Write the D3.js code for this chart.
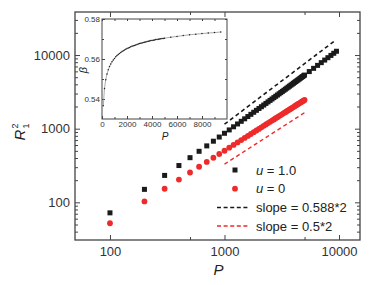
<!DOCTYPE html>
<html lang="en">
<head>
  <meta charset="UTF-8">
  <title>R1^2 vs P</title>
  <script src="https://d3js.org/d3.v7.min.js"></script>
  <style>
    body { margin: 0; background: #fff; font-family: Arial, "Liberation Sans", sans-serif; }
    svg { display: block; }
    .tick text { fill: #333; }
  </style>
</head>
<body>
  <div id="chart"></div>

  <script>
    // chain lengths P and R1^2 for u = 1.0 (black squares)
    const pU1 = [100, 200, 300, 400, 500, 600, 700, 800, 900, 1000,
      1100, 1200, 1300, 1400, 1500, 1600, 1700, 1800, 1900, 2000,
      2100, 2200, 2300, 2400, 2500, 2600, 2700, 2800, 2900, 3000,
      3100, 3200, 3300, 3400, 3500, 3600, 3700, 3800, 3900, 4000,
      4100, 4200, 4300, 4400, 4500, 4600, 4700, 4800, 4900, 5000,
      5500, 6000, 6500, 7000, 7500, 8000, 8500, 9000, 9500];
    const r2U1 = [72, 150, 232, 316, 404, 493, 584, 676, 770, 866,
      962, 1061, 1159, 1259, 1361, 1462, 1566, 1670, 1775, 1881,
      1987, 2094, 2202, 2311, 2421, 2530, 2641, 2752, 2865, 2977,
      3091, 3205, 3318, 3434, 3549, 3666, 3782, 3899, 4018, 4136,
      4254, 4373, 4493, 4614, 4734, 4855, 4977, 5098, 5221, 5343,
      5964, 6596, 7237, 7884, 8545, 9210, 9882, 10563, 11253];

    // u = 0 (red circles)
    const pU0 = [100, 200, 300, 400, 500, 600, 700, 800, 900, 1000,
      1100, 1200, 1300, 1400, 1500, 1600, 1700, 1800, 1900, 2000,
      2100, 2200, 2300, 2400, 2500, 2600, 2700, 2800, 2900, 3000,
      3100, 3200, 3300, 3400, 3500, 3600, 3700, 3800, 3900, 4000,
      4100, 4200, 4300, 4400, 4500, 4600, 4700, 4800, 4900, 5000];
    const r2U0 = [52, 103, 153, 204, 254, 304, 354, 403, 453, 502,
      552, 601, 651, 700, 749, 798, 847, 897, 945, 994,
      1043, 1092, 1141, 1190, 1239, 1287, 1336, 1385, 1434, 1482,
      1531, 1580, 1628, 1677, 1726, 1774, 1823, 1871, 1920, 1968,
      2017, 2065, 2114, 2162, 2210, 2259, 2307, 2356, 2404, 2452];

    // inset: effective exponent beta vs P (same P as u = 1.0)
    const beta = [0.5366, 0.5453, 0.5496, 0.5525, 0.5546, 0.5562, 0.5575, 0.5586, 0.5595, 0.5603,
      0.5611, 0.5617, 0.5623, 0.5628, 0.5633, 0.5637, 0.5641, 0.5645, 0.5649, 0.5652,
      0.5655, 0.5658, 0.5661, 0.5664, 0.5666, 0.5668, 0.5670, 0.5673, 0.5675, 0.5677,
      0.5679, 0.5680, 0.5682, 0.5684, 0.5685, 0.5687, 0.5689, 0.5690, 0.5692, 0.5693,
      0.5694, 0.5695, 0.5697, 0.5698, 0.5699, 0.5700, 0.5701, 0.5702, 0.5703, 0.5704,
      0.5709, 0.5713, 0.5717, 0.5721, 0.5724, 0.5727, 0.5730, 0.5732, 0.5735];

    // reference slope lines (end points in data units)
    const slopeBlackP = [1000, 9400];
    const slopeBlackR = [1150, 16040];
    const slopeRedP = [1000, 5000];
    const slopeRedR = [330, 1650];

    const xMajor = [100, 1000, 10000];
    const xMinor = [500, 5000];
    const yMajor = [100, 1000, 10000];
    const insetXTicks = [0, 2000, 4000, 6000, 8000];
    const insetYTicks = [0.54, 0.56, 0.58];

    const legendItems = [
      { label: "u = 1.0", kind: "square" },
      { label: "u = 0", kind: "circle" },
      { label: "slope = 0.588*2", kind: "dashBlack" },
      { label: "slope = 0.5*2", kind: "dashRed" }
    ];

    const width = 377, height = 285;
    const plot = { left: 75, right: 360, top: 12, bottom: 240 };
    const black = "#1a1a1a", red = "#ee2a2a", frameColor = "#444";

    const svg = d3.select("#chart").append("svg")
      .attr("width", width)
      .attr("height", height);

    const x = d3.scaleLog().domain([49.5, 15250]).range([plot.left, plot.right]);
    const y = d3.scaleLog().domain([30.8, 38400]).range([plot.bottom, plot.top]);

    // minor y ticks 2..9 per decade
    const yMinor = [];
    [10, 100, 1000, 10000].forEach(dec => {
      for (let k = 2; k <= 9; k++) {
        const v = k * dec;
        if (v > y.domain()[0] && v < y.domain()[1]) yMinor.push(v);
      }
    });

    function styleAxis(g) {
      g.select(".domain").remove();
      g.selectAll(".tick line").attr("stroke", frameColor).attr("stroke-width", 1);
    }

    // bottom
    svg.append("g").attr("transform", `translate(0,${plot.bottom})`)
      .call(d3.axisBottom(x).tickValues(xMajor).tickFormat(d3.format("d")).tickSizeInner(-5).tickPadding(7))
      .call(styleAxis)
      .selectAll("text").style("font-size", "13px").style("font-family", "Arial, 'Liberation Sans', sans-serif");
    svg.append("g").attr("transform", `translate(0,${plot.bottom})`)
      .call(d3.axisBottom(x).tickValues(xMinor).tickFormat("").tickSizeInner(-3))
      .call(styleAxis);
    // top
    svg.append("g").attr("transform", `translate(0,${plot.top})`)
      .call(d3.axisTop(x).tickValues(xMajor).tickFormat("").tickSizeInner(-5))
      .call(styleAxis);
    svg.append("g").attr("transform", `translate(0,${plot.top})`)
      .call(d3.axisTop(x).tickValues(xMinor).tickFormat("").tickSizeInner(-3))
      .call(styleAxis);
    // left
    svg.append("g").attr("transform", `translate(${plot.left},0)`)
      .call(d3.axisLeft(y).tickValues(yMajor).tickFormat(d3.format("d")).tickSizeInner(-5).tickPadding(5))
      .call(styleAxis)
      .selectAll("text").style("font-size", "13px").style("font-family", "Arial, 'Liberation Sans', sans-serif");
    svg.append("g").attr("transform", `translate(${plot.left},0)`)
      .call(d3.axisLeft(y).tickValues(yMinor).tickFormat("").tickSizeInner(-3))
      .call(styleAxis);
    // right
    svg.append("g").attr("transform", `translate(${plot.right},0)`)
      .call(d3.axisRight(y).tickValues(yMajor).tickFormat("").tickSizeInner(-5))
      .call(styleAxis);
    svg.append("g").attr("transform", `translate(${plot.right},0)`)
      .call(d3.axisRight(y).tickValues(yMinor).tickFormat("").tickSizeInner(-3))
      .call(styleAxis);

    svg.append("rect")
      .attr("x", plot.left).attr("y", plot.top)
      .attr("width", plot.right - plot.left).attr("height", plot.bottom - plot.top)
      .attr("fill", "none").attr("stroke", frameColor).attr("stroke-width", 1.3);

    // slope lines
    const line = d3.line().x(d => x(d[0])).y(d => y(d[1]));
    svg.append("path")
      .attr("d", line(slopeBlackP.map((p, i) => [p, slopeBlackR[i]])))
      .attr("stroke", black).attr("stroke-width", 1.6).attr("stroke-dasharray", "4,3").attr("fill", "none");
    svg.append("path")
      .attr("d", line(slopeRedP.map((p, i) => [p, slopeRedR[i]])))
      .attr("stroke", red).attr("stroke-width", 1.4).attr("stroke-dasharray", "4,3").attr("fill", "none");

    // data
    const sq = 5;
    svg.append("g").selectAll("rect")
      .data(pU1.map((p, i) => [p, r2U1[i]]))
      .enter().append("rect")
      .attr("x", d => x(d[0]) - sq / 2)
      .attr("y", d => y(d[1]) - sq / 2)
      .attr("width", sq).attr("height", sq)
      .attr("fill", black);

    svg.append("g").selectAll("circle")
      .data(pU0.map((p, i) => [p, r2U0[i]]))
      .enter().append("circle")
      .attr("cx", d => x(d[0]))
      .attr("cy", d => y(d[1]))
      .attr("r", 2.9)
      .attr("fill", red);

    // axis titles
    svg.append("text")
      .attr("x", (plot.left + plot.right) / 2 + 1).attr("y", 275)
      .attr("text-anchor", "middle")
      .style("font-size", "15px").style("font-style", "italic").attr("fill", "#222")
      .text("P");

    const yt = svg.append("text")
      .attr("transform", "translate(25,132) rotate(-90)")
      .attr("text-anchor", "middle").attr("fill", "#222");
    yt.append("tspan").style("font-size", "15px").style("font-style", "italic").text("R");
    yt.append("tspan").style("font-size", "9px").attr("dy", -7).attr("dx", 1).text("2");
    yt.append("tspan").style("font-size", "9px").attr("dy", 11).attr("dx", -5).text("1");

    // legend
    const legend = svg.append("g").attr("transform", "translate(217,170)");
    legendItems.forEach((item, i) => {
      const g = legend.append("g").attr("transform", `translate(0,${i * 18.7})`);
      if (item.kind === "square") {
        g.append("rect").attr("x", 15.5).attr("y", -2.5).attr("width", sq).attr("height", sq).attr("fill", black);
      } else if (item.kind === "circle") {
        g.append("circle").attr("cx", 18).attr("cy", 0).attr("r", 2.9).attr("fill", red);
      } else {
        g.append("line").attr("x1", 0).attr("x2", 33).attr("y1", 0).attr("y2", 0)
          .attr("stroke", item.kind === "dashBlack" ? black : red)
          .attr("stroke-width", 1.5).attr("stroke-dasharray", "4,2.6");
      }
      const t = g.append("text").attr("x", 39).attr("y", 4.6)
        .style("font-size", "13px").attr("fill", "#222");
      if (item.kind === "square" || item.kind === "circle") {
        const parts = item.label.split(" = ");
        t.append("tspan").style("font-style", "italic").text(parts[0]);
        t.append("tspan").text(" = " + parts[1]);
      } else {
        t.text(item.label);
      }
    });

    // inset
    const inset = { left: 102, right: 227, top: 19, bottom: 119 };
    const ix = d3.scaleLinear().domain([0, 10000]).range([inset.left, inset.right]);
    const iy = d3.scaleLinear().domain([0.53, 0.58]).range([inset.bottom, inset.top]);

    svg.append("rect")
      .attr("x", inset.left).attr("y", inset.top)
      .attr("width", inset.right - inset.left).attr("height", inset.bottom - inset.top)
      .attr("fill", "#fff");

    const insetXMinor = [1000, 3000, 5000, 7000, 9000];
    const insetYMinor = [0.55, 0.57];
    const ifont = "8px";

    svg.append("g").attr("transform", `translate(0,${inset.bottom})`)
      .call(d3.axisBottom(ix).tickValues(insetXTicks).tickFormat(d3.format("d")).tickSizeInner(-3).tickPadding(2))
      .call(styleAxis)
      .selectAll("text").style("font-size", ifont);
    svg.append("g").attr("transform", `translate(0,${inset.bottom})`)
      .call(d3.axisBottom(ix).tickValues(insetXMinor).tickFormat("").tickSizeInner(-2))
      .call(styleAxis);
    svg.append("g").attr("transform", `translate(0,${inset.top})`)
      .call(d3.axisTop(ix).tickValues(insetXTicks.concat(insetXMinor)).tickFormat("").tickSizeInner(-2))
      .call(styleAxis);
    svg.append("g").attr("transform", `translate(${inset.left},0)`)
      .call(d3.axisLeft(iy).tickValues(insetYTicks).tickFormat(d3.format(".2f")).tickSizeInner(-3).tickPadding(2))
      .call(styleAxis)
      .selectAll("text").style("font-size", ifont);
    svg.append("g").attr("transform", `translate(${inset.left},0)`)
      .call(d3.axisLeft(iy).tickValues(insetYMinor).tickFormat("").tickSizeInner(-2))
      .call(styleAxis);
    svg.append("g").attr("transform", `translate(${inset.right},0)`)
      .call(d3.axisRight(iy).tickValues(insetYTicks.concat(insetYMinor)).tickFormat("").tickSizeInner(-2))
      .call(styleAxis);

    svg.append("rect")
      .attr("x", inset.left).attr("y", inset.top)
      .attr("width", inset.right - inset.left).attr("height", inset.bottom - inset.top)
      .attr("fill", "none").attr("stroke", frameColor).attr("stroke-width", 1);

    const betaData = pU1.map((p, i) => [p, beta[i]]);
    svg.append("path")
      .attr("d", d3.line().x(d => ix(d[0])).y(d => iy(d[1]))(betaData))
      .attr("fill", "none").attr("stroke", "#888").attr("stroke-width", 0.7);
    svg.append("g").selectAll("circle")
      .data(betaData)
      .enter().append("circle")
      .attr("cx", d => ix(d[0])).attr("cy", d => iy(d[1]))
      .attr("r", 0.75).attr("fill", "#222");

    svg.append("text")
      .attr("x", 165).attr("y", 140)
      .attr("text-anchor", "middle")
      .style("font-size", "10px").style("font-style", "italic").attr("fill", "#222")
      .text("P");
    svg.append("text")
      .attr("transform", "translate(87,70) rotate(-90)")
      .attr("text-anchor", "middle")
      .style("font-size", "11px").style("font-style", "italic").attr("fill", "#222")
      .text("β");
  </script>
</body>
</html>
